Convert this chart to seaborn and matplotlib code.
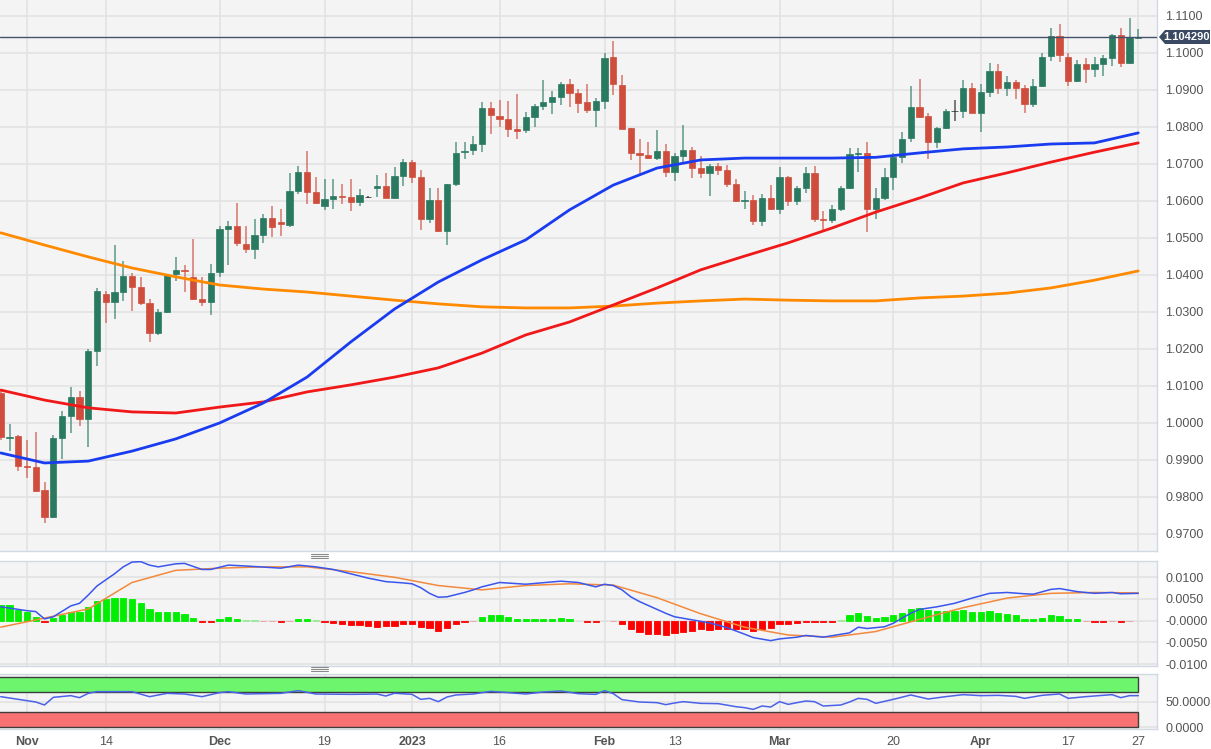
import numpy as np
import pandas as pd
import matplotlib
matplotlib.use("Agg")
import matplotlib.pyplot as plt
import seaborn as sns
from matplotlib.patches import Polygon, Rectangle
from matplotlib.lines import Line2D

# ---------------- data ----------------
opens = [1.0080,0.9960,0.9965,0.9885,0.9880,0.9820,0.9746,0.9960,1.0019,1.0070,
         1.0011,1.0195,1.0349,1.0327,1.0354,1.0397,1.0368,1.0324,1.0243,1.0300,
         1.0403,1.0414,1.0395,1.0335,1.0327,1.0408,1.0524,1.0532,1.0484,1.0470,
         1.0508,1.0554,1.0543,1.0535,1.0627,1.0678,1.0624,1.0586,1.0605,1.0614,
         1.0611,1.0597,1.0611,1.0635,1.0640,1.0608,1.0668,1.0705,1.0665,1.0551,
         1.0603,1.0519,1.0646,1.0732,1.0738,1.0754,1.0851,1.0830,1.0822,1.0795,
         1.0792,1.0827,1.0857,1.0868,1.0881,1.0916,1.0892,1.0868,1.0846,1.0870,
         1.0989,1.0914,1.0797,1.0730,1.0724,1.0716,1.0735,1.0678,1.0722,1.0738,
         1.0689,1.0676,1.0695,1.0684,1.0646,1.0600,1.0603,1.0546,1.0608,1.0578,
         1.0665,1.0600,1.0635,1.0676,1.0551,1.0549,1.0578,1.0635,1.0727,1.0730,
         1.0578,1.0608,1.0665,1.0719,1.0770,1.0854,1.0830,1.0759,1.0797,1.0843,
         1.0843,1.0905,1.0838,1.0895,1.0951,1.0905,1.0922,1.0905,1.0862,1.0911,
         1.0992,1.1046,1.0989,1.0924,1.0970,1.0957,1.0970,1.0986,1.1049,1.0973,
         1.1040]
highs = [1.0090,0.9997,0.9968,0.9955,0.9976,0.9840,0.9968,1.0032,1.0097,1.0086,
         1.0200,1.0365,1.0357,1.0481,1.0438,1.0405,1.0395,1.0335,1.0308,1.0403,
         1.0449,1.0427,1.0497,1.0395,1.0430,1.0532,1.0546,1.0595,1.0532,1.0551,
         1.0565,1.0586,1.0578,1.0676,1.0695,1.0735,1.0665,1.0659,1.0659,1.0646,
         1.0659,1.0632,1.0614,1.0670,1.0676,1.0692,1.0713,1.0710,1.0684,1.0635,
         1.0635,1.0646,1.0759,1.0759,1.0776,1.0868,1.0868,1.0873,1.0870,1.0889,
         1.0841,1.0862,1.0927,1.0897,1.0922,1.0930,1.0903,1.0916,1.0878,1.1000,
         1.1032,1.0941,1.0797,1.0768,1.0759,1.0792,1.0754,1.0730,1.0805,1.0746,
         1.0722,1.0700,1.0703,1.0697,1.0659,1.0627,1.0616,1.0619,1.0643,1.0692,
         1.0668,1.0641,1.0692,1.0695,1.0573,1.0589,1.0641,1.0743,1.0743,1.0759,
         1.0635,1.0689,1.0730,1.0786,1.0911,1.0930,1.0838,1.0800,1.0849,1.0873,
         1.0927,1.0919,1.0916,1.0973,1.0970,1.0938,1.0927,1.0914,1.0930,1.1000,
         1.1068,1.1078,1.1000,1.0981,1.0986,1.0989,1.0995,1.1051,1.1068,1.1095,
         1.1065]
lows = [0.9955,0.9925,0.9870,0.9850,0.9813,0.9730,0.9743,0.9903,0.9973,0.9992,
        0.9935,1.0153,1.0270,1.0281,1.0330,1.0303,1.0319,1.0219,1.0238,1.0297,
        1.0384,1.0354,1.0332,1.0316,1.0292,1.0395,1.0427,1.0478,1.0459,1.0443,
        1.0486,1.0503,1.0505,1.0530,1.0619,1.0592,1.0592,1.0576,1.0578,1.0592,
        1.0573,1.0586,1.0608,1.0611,1.0608,1.0605,1.0640,1.0649,1.0522,1.0541,
        1.0516,1.0481,1.0641,1.0714,1.0724,1.0732,1.0781,1.0800,1.0773,1.0768,
        1.0784,1.0800,1.0846,1.0835,1.0859,1.0854,1.0838,1.0838,1.0800,1.0849,
        1.0886,1.0795,1.0711,1.0668,1.0713,1.0711,1.0665,1.0654,1.0705,1.0662,
        1.0662,1.0614,1.0670,1.0638,1.0597,1.0578,1.0535,1.0532,1.0576,1.0565,
        1.0586,1.0589,1.0622,1.0543,1.0522,1.0540,1.0573,1.0632,1.0678,1.0516,
        1.0551,1.0603,1.0630,1.0703,1.0759,1.0824,1.0714,1.0743,1.0795,1.0816,
        1.0824,1.0838,1.0786,1.0881,1.0889,1.0884,1.0876,1.0838,1.0854,1.0908,
        1.0978,1.0976,1.0911,1.0922,1.0919,1.0935,1.0938,1.0965,1.0962,1.0970,
        1.1038]
closes = [0.9963,0.9963,0.9884,0.9880,0.9817,0.9746,0.9960,1.0019,1.0070,1.0011,
          1.0195,1.0357,1.0327,1.0354,1.0397,1.0368,1.0324,1.0243,1.0300,1.0400,
          1.0414,1.0411,1.0335,1.0327,1.0405,1.0524,1.0532,1.0486,1.0470,1.0508,
          1.0554,1.0530,1.0538,1.0627,1.0678,1.0624,1.0595,1.0605,1.0614,1.0610,
          1.0597,1.0616,1.0611,1.0640,1.0608,1.0668,1.0705,1.0665,1.0551,1.0603,
          1.0519,1.0646,1.0730,1.0735,1.0754,1.0851,1.0832,1.0822,1.0795,1.0789,
          1.0827,1.0857,1.0868,1.0881,1.0916,1.0892,1.0865,1.0846,1.0870,1.0986,
          1.0916,1.0795,1.0730,1.0724,1.0716,1.0735,1.0678,1.0722,1.0738,1.0689,
          1.0676,1.0695,1.0684,1.0646,1.0600,1.0603,1.0546,1.0608,1.0578,1.0665,
          1.0600,1.0635,1.0676,1.0551,1.0549,1.0578,1.0635,1.0727,1.0730,1.0578,
          1.0608,1.0665,1.0719,1.0768,1.0854,1.0827,1.0759,1.0797,1.0843,1.0843,
          1.0905,1.0838,1.0895,1.0951,1.0905,1.0922,1.0905,1.0862,1.0911,1.0989,
          1.1046,1.0995,1.0924,1.0970,1.0957,1.0970,1.0986,1.1049,1.0973,1.1043,
          1.1043]

ma_idx = [0,5,10,15,20,25,30,35,40,45,50,55,60,65,70,75,80,85,90,95,100,105,110,115,120,125,130]
sma_blue = [0.9919,0.9892,0.9897,0.9924,0.9957,1.0000,1.0054,1.0124,1.0219,1.0308,1.0381,1.0441,1.0495,
            1.0576,1.0643,1.0689,1.0711,1.0716,1.0716,1.0716,1.0718,1.0730,1.0741,1.0746,1.0754,1.0757,1.0784]
sma_red = [1.0089,1.0062,1.0041,1.0030,1.0027,1.0043,1.0057,1.0084,1.0103,1.0124,1.0149,1.0189,1.0238,
           1.0273,1.0319,1.0365,1.0414,1.0451,1.0487,1.0527,1.0570,1.0608,1.0649,1.0676,1.0705,1.0732,1.0757]
sma_orange = [1.0514,1.0481,1.0449,1.0419,1.0395,1.0373,1.0362,1.0354,1.0343,1.0332,1.0322,1.0314,1.0311,
              1.0311,1.0316,1.0324,1.0330,1.0335,1.0332,1.0330,1.0330,1.0338,1.0343,1.0351,1.0365,1.0386,1.0411]

last_price = 1.104290

macd_hist = [0.0036,0.0035,0.0025,0.0019,0.0009,-0.0003,0.0007,0.0012,0.0021,0.0021,
             0.0031,0.0046,0.0051,0.0053,0.0053,0.0049,0.0041,0.0026,0.0019,0.0019,
             0.0019,0.0015,0.0007,-0.0002,-0.0002,0.0004,0.0008,0.0005,0.0001,0.0001,
             -0.0001,-0.0001,-0.0003,-0.0001,0.0005,0.0003,0.0001,-0.0002,-0.0006,-0.0008,
             -0.0010,-0.0011,-0.0012,-0.0014,-0.0013,-0.0012,-0.0007,-0.0008,-0.0015,-0.0018,
             -0.0024,-0.0018,-0.0008,-0.0003,-0.0001,0.0008,0.0012,0.0012,0.0008,0.0005,
             0.0004,0.0004,0.0004,0.0004,0.0006,0.0004,0.0000,-0.0004,-0.0004,0.0000,
             -0.0001,-0.0008,-0.0019,-0.0027,-0.0031,-0.0031,-0.0033,-0.0029,-0.0027,-0.0024,
             -0.0019,-0.0022,-0.0019,-0.0019,-0.0019,-0.0019,-0.0024,-0.0019,-0.0016,-0.0008,
             -0.0008,-0.0005,-0.0003,-0.0003,-0.0004,-0.0004,0.0001,0.0012,0.0017,0.0010,
             0.0007,0.0008,0.0014,0.0018,0.0026,0.0029,0.0025,0.0023,0.0023,0.0023,
             0.0025,0.0019,0.0019,0.0022,0.0018,0.0015,0.0012,0.0004,0.0004,0.0007,
             0.0013,0.0011,0.0004,0.0003,-0.0001,-0.0003,-0.0003,-0.0001,-0.0004,-0.0001,
             0.0000]

macd_idx = [0,1,3,4,5,6,8,9,10,11,12,13,14,15,16,17,18,20,21,23,24,26,28,32,34,36,38,42,44,
            46,47,48,49,50,51,53,54,55,57,60,64,66,68,69,70,71,72,73,74,76,77,79,81,83,85,86,
            88,89,91,92,94,97,98,99,101,102,103,104,105,107,109,111,113,115,117,118,120,121,
            123,125,127,128,130]
macd_line = [0.0032,0.0029,0.0023,0.0021,0.0004,0.0009,0.0034,0.0040,0.0059,0.0080,0.0094,0.0108,
             0.0124,0.0135,0.0136,0.0128,0.0124,0.0131,0.0132,0.0118,0.0118,0.0128,0.0126,0.0121,
             0.0128,0.0124,0.0118,0.0098,0.0090,0.0087,0.0085,0.0076,0.0063,0.0054,0.0055,0.0065,
             0.0071,0.0078,0.0088,0.0084,0.0091,0.0088,0.0078,0.0084,0.0081,0.0071,0.0055,0.0044,
             0.0035,0.0017,0.0009,0.0002,-0.0005,-0.0016,-0.0031,-0.0039,-0.0046,-0.0042,-0.0038,
             -0.0034,-0.0038,-0.0028,-0.0015,-0.0018,-0.0014,-0.0006,0.0006,0.0017,0.0026,0.0032,
             0.0040,0.0052,0.0063,0.0065,0.0062,0.0061,0.0072,0.0074,0.0067,0.0063,0.0065,0.0062,
             0.0063]
signal_idx = ma_idx
signal_line = [-0.0015,0.0006,0.0027,0.0088,0.0116,0.0121,0.0124,0.0124,0.0113,0.0100,0.0081,0.0071,
               0.0081,0.0085,0.0082,0.0053,0.0016,-0.0015,-0.0033,-0.0038,-0.0025,0.0003,0.0030,
               0.0052,0.0063,0.0065,0.0064]

rsi_idx = [0,2,4,5,6,8,9,10,11,15,17,19,21,23,25,26,28,32,34,36,40,43,44,45,47,48,49,50,51,52,
           54,56,58,60,62,64,66,68,69,70,71,73,75,76,77,78,80,82,84,85,86,87,88,89,90,92,93,94,96,97,
           98,99,100,102,104,106,108,110,112,114,116,117,119,121,122,124,127,128,129,130]
rsi_val = [60.7,55.3,50,44,59.3,62.7,58.7,67.3,70.7,70.7,60.7,67.3,66,60.7,68.7,70.7,66,67.3,72.7,66,
           65.3,66,62,67.5,65.3,55.3,57.3,50.7,60,64,66,71.3,68.7,66,70,72,66.7,65.3,72.7,66.7,
           54.7,50,48.7,44.7,48,50.7,47.3,46.7,40.7,38.7,35.3,42,40,50.7,45.3,52,50.7,42,44,50,
           57.3,55.3,47.3,55.3,64,56,60.7,64.7,62.7,63.3,61.3,57.3,63.3,66,57.3,60.7,64.7,58.7,62.7,62.7]

date_idx = [3,12,25,37,47,57,69,77,89,102,112,122,130]
date_labels = ["Nov","14","Dec","19","2023","16","Feb","13","Mar","20","Apr","17","27"]
bold_labels = {"Nov","Dec","2023","Feb","Mar","Apr"}

price_ticks = [1.11,1.10,1.09,1.08,1.07,1.06,1.05,1.04,1.03,1.02,1.01,1.00,0.99,0.98,0.97]
macd_ticks = [0.01,0.005,0.0,-0.005,-0.01]
macd_tick_labels = ["0.0100","0.0050","-0.0000","-0.0050","-0.0100"]
rsi_ticks = [50,0]
rsi_tick_labels = ["50.0000","0.0000"]

# ---------------- styling ----------------
sns.set_style("white")
plt.rcParams['font.family'] = ['Liberation Sans', 'DejaVu Sans']

W, H = 1211, 749
fig = plt.figure(figsize=(W/100, H/100), dpi=100)
fig.patch.set_facecolor("white")

def fx(px): return px / W
def fy(py): return 1 - py / H

panel_right = 1157
ax_main = fig.add_axes([0, fy(551), fx(panel_right), 551/H])
ax_macd = fig.add_axes([0, fy(666), fx(panel_right), 105/H])
ax_rsi = fig.add_axes([0, fy(729), fx(panel_right), 55/H])

xlim = (-0.0857, 132.14)
bg = "#f4f4f4"
grid_c = "#e2e2e2"
spine_c = "#d3d9e4"
tick_c = "#555555"

for ax in (ax_main, ax_macd, ax_rsi):
    ax.set_facecolor(bg)
    ax.set_xlim(*xlim)
    ax.yaxis.tick_right()
    ax.tick_params(axis="y", length=0, pad=6, labelsize=9, labelcolor=tick_c)
    ax.tick_params(axis="x", length=0)
    for s in ax.spines.values():
        s.set_color(spine_c)
        s.set_linewidth(1.0)
    ax.spines["left"].set_visible(False)
    for d in date_idx:
        ax.axvline(d, color=grid_c, lw=1.2, zorder=0)
ax_main.spines["top"].set_visible(False)

# ---------------- main candlestick panel ----------------
ax_main.set_ylim(0.965405, 1.114324)
ax_main.set_yticks(price_ticks)
ax_main.set_yticklabels([f"{t:.4f}" for t in price_ticks])
ax_main.set_xticks([])
for t in price_ticks:
    ax_main.axhline(t, color=grid_c, lw=1.2, zorder=0)

n = len(opens)
xs = np.arange(n)
o = np.array(opens); c = np.array(closes); h = np.array(highs); l = np.array(lows)
green, red, doji = "#2a7a62", "#cf4d3d", "#222222"
body_cols = [doji if abs(cc - oo) < 1e-9 else (green if cc > oo else red) for oo, cc in zip(o, c)]
ax_main.vlines(xs, l, h, colors=body_cols, lw=1.1, alpha=0.75, zorder=2)
ax_main.bar(xs, np.maximum(np.abs(c - o), 1e-5), bottom=np.minimum(o, c), width=0.72,
            color=body_cols, edgecolor=body_cols, linewidth=0.5, zorder=3)

ma_df = pd.DataFrame({"i": ma_idx, "blue": sma_blue, "red": sma_red, "orange": sma_orange})
sns.lineplot(data=ma_df, x="i", y="orange", ax=ax_main, color="#ff8a00", lw=2.0, zorder=4, legend=False)
sns.lineplot(data=ma_df, x="i", y="red", ax=ax_main, color="#f01818", lw=2.0, zorder=4, legend=False)
sns.lineplot(data=ma_df, x="i", y="blue", ax=ax_main, color="#1a3cf0", lw=2.0, zorder=4, legend=False)
ax_main.set_xlim(*xlim)

ax_main.axhline(last_price, color="#44536b", lw=1.0, zorder=5)
# price tag
ytag = 37
tag = Polygon([[fx(1159), fy(ytag)], [fx(1165), fy(ytag - 7)], [fx(1210), fy(ytag - 7)],
               [fx(1210), fy(ytag + 7)], [fx(1165), fy(ytag + 7)]],
              closed=True, transform=fig.transFigure, facecolor="#3b4a62", edgecolor="none", zorder=10)
fig.patches.append(tag)
fig.text(fx(1187), fy(ytag + 0.5), f"{last_price:.6f}", color="white", fontsize=8, fontweight="bold",
         ha="center", va="center", zorder=11)

# ---------------- MACD panel ----------------
ax_macd.set_ylim(-0.01044, 0.01375)
ax_macd.set_yticks(macd_ticks)
ax_macd.set_yticklabels(macd_tick_labels)
ax_macd.set_xticks([])
for t in macd_ticks:
    ax_macd.axhline(t, color=grid_c, lw=1.2, zorder=0)
hist = np.array(macd_hist)
hcols = []
for v in hist:
    if v > 0.00015:
        hcols.append("#00ee00")
    elif v > 0:
        hcols.append("#9be89b")
    elif v < -0.00015:
        hcols.append("#ff0000")
    elif v < 0:
        hcols.append("#f29a9a")
    else:
        hcols.append("#dddddd")
ax_macd.bar(xs, hist, width=0.7, color=hcols, edgecolor=hcols, linewidth=0.6, zorder=2)
sns.lineplot(x=signal_idx, y=signal_line, ax=ax_macd, color="#f3893c", lw=1.1, zorder=3)
sns.lineplot(x=macd_idx, y=macd_line, ax=ax_macd, color="#3a56ee", lw=1.1, zorder=4)
ax_macd.set_xlim(*xlim)

# ---------------- RSI panel ----------------
ax_rsi.set_ylim(-4, 106)
ax_rsi.set_yticks(rsi_ticks)
ax_rsi.set_yticklabels(rsi_tick_labels)
for t in rsi_ticks:
    ax_rsi.axhline(t, color=grid_c, lw=1.2, zorder=0)
ax_rsi.add_patch(Rectangle((xlim[0] - 1, 70), 130 - xlim[0] + 1, 30, facecolor="#6df56d",
                           edgecolor="#3d3d3d", linewidth=1.0, zorder=1))
ax_rsi.add_patch(Rectangle((xlim[0] - 1, 0), 130 - xlim[0] + 1, 30, facecolor="#f87272",
                           edgecolor="#3d3d3d", linewidth=1.0, zorder=1))
sns.lineplot(x=rsi_idx, y=rsi_val, ax=ax_rsi, color="#4a62e8", lw=1.1, zorder=3)
ax_rsi.set_xlim(*xlim)
ax_rsi.set_xticks(date_idx)
ax_rsi.set_xticklabels(date_labels)
ax_rsi.tick_params(axis="x", pad=5, labelsize=9, labelcolor=tick_c)
for lab in ax_rsi.get_xticklabels():
    if lab.get_text() in bold_labels:
        lab.set_fontweight("bold")

for ax in (ax_main, ax_macd, ax_rsi):
    ax.set_xlabel(""); ax.set_ylabel("")

# panel resize handles
for yc in (556, 669):
    for dy in (-2, 0, 2):
        fig.lines.append(Line2D([fx(311), fx(328)], [fy(yc + dy), fy(yc + dy)],
                                transform=fig.transFigure, color="#8a8a8a", lw=0.8))

fig.savefig("out.png", dpi=100, facecolor="white")
